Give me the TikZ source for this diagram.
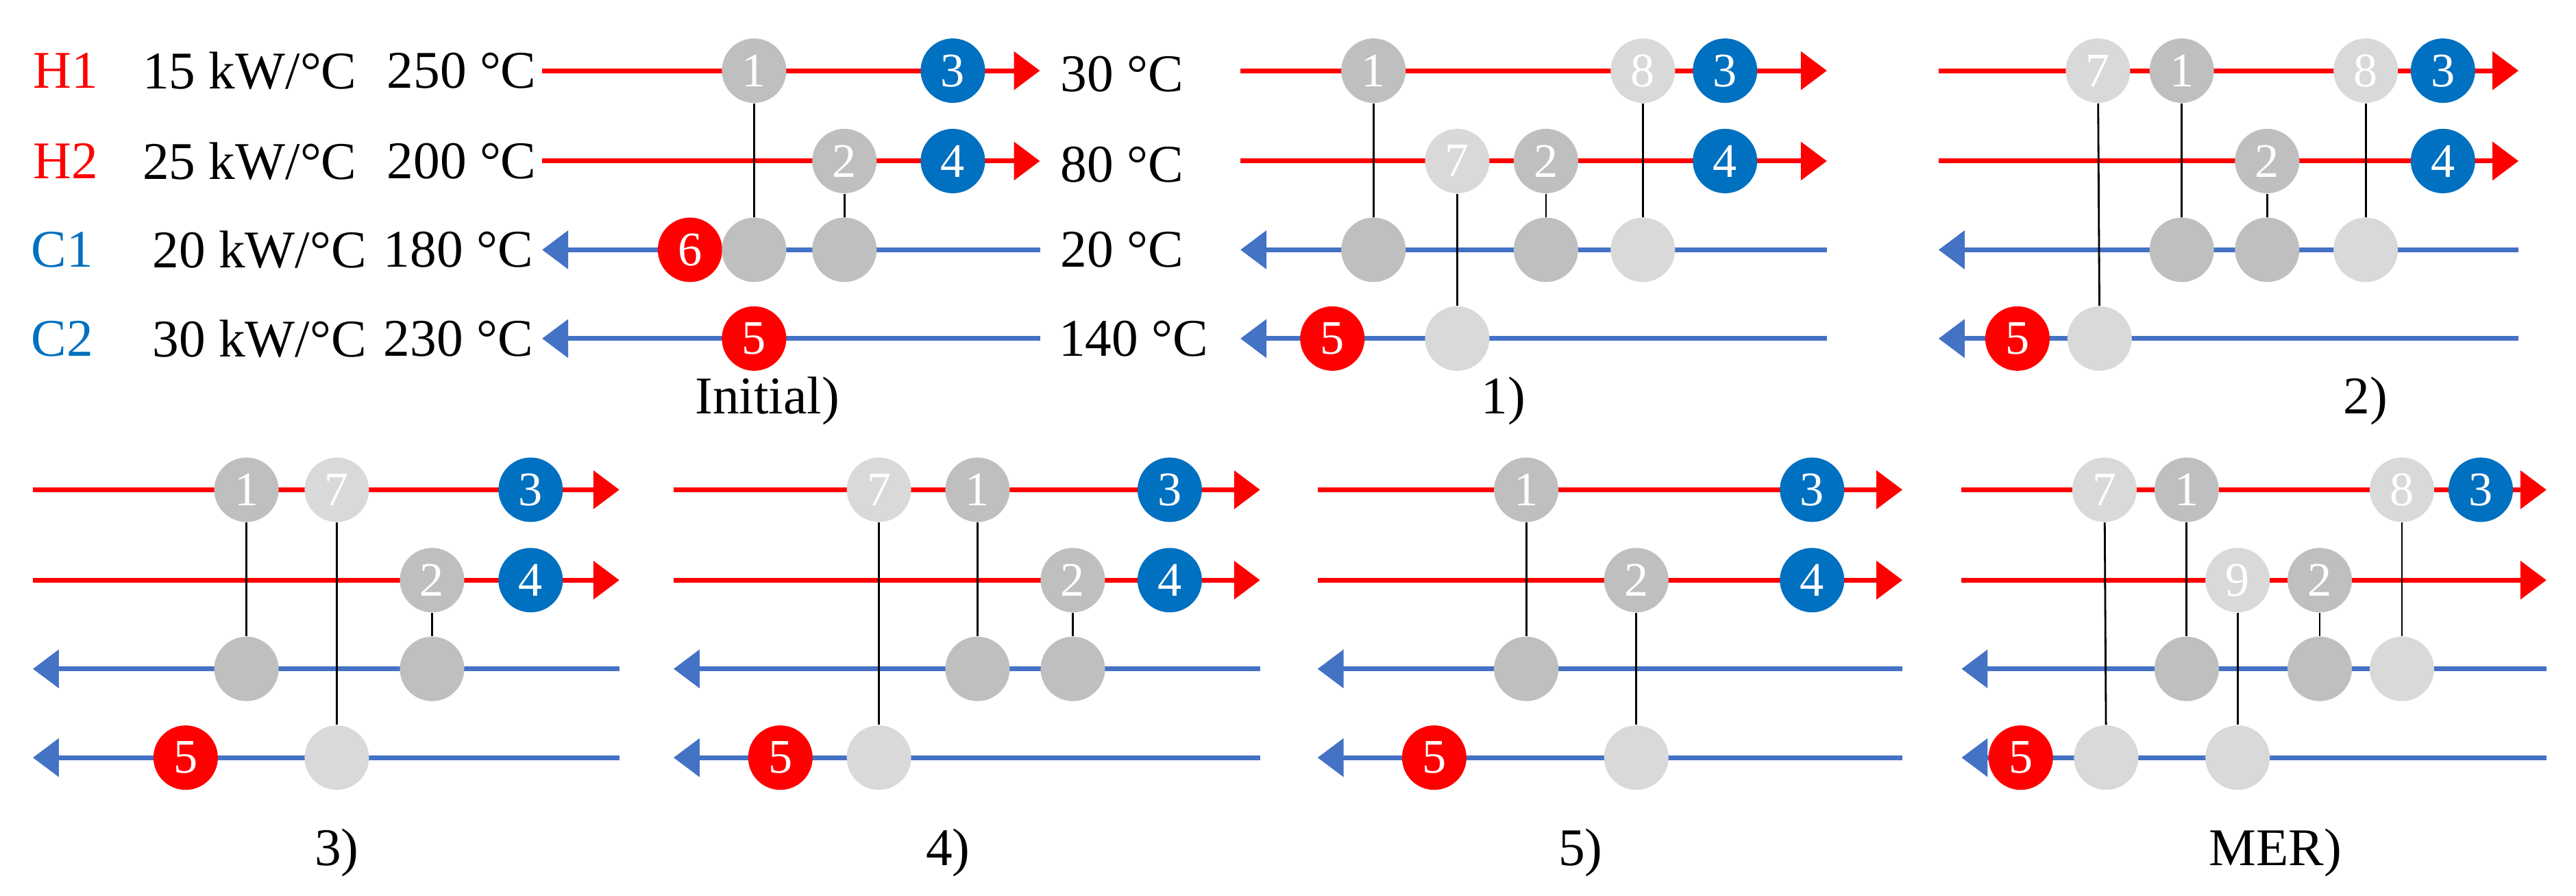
\documentclass[tikz,border=0pt]{standalone}
\usepackage{fontspec}
\setmainfont{Liberation Serif}
\usetikzlibrary{arrows.meta,backgrounds}
\definecolor{hotRed}{HTML}{FF0000}
\definecolor{coolBlue}{HTML}{0070C0}
\definecolor{coldLine}{HTML}{4472C4}
\definecolor{exDark}{HTML}{BFBFBF}
\definecolor{exLight}{HTML}{D9D9D9}
\tikzset{
  hx/.style={circle, minimum size=0.94cm, inner sep=0pt, text=white, font=\fontsize{20}{20}\selectfont},
  dk/.style={hx, fill=exDark},
  lt/.style={hx, fill=exLight},
  ht/.style={hx, fill=hotRed},
  cu/.style={hx, fill=coolBlue},
  hotline/.style={hotRed, line width=2pt, -{Triangle[length=0.38cm,width=0.55cm]}},
  coldline/.style={coldLine, line width=2pt, -{Triangle[length=0.38cm,width=0.55cm]}},
  link/.style={black, line width=0.8pt},
  lbl/.style={font=\fontsize{22}{22}\selectfont, inner sep=0pt},
  captxt/.style={font=\fontsize{22}{22}\selectfont, inner sep=0pt},
}
% streams of a panel: x0 left, x1 right, ya top row
\newcommand{\streams}[4]{%
  \coordinate (#4h1a) at (#1,#3); \coordinate (#4h1b) at (#2,#3);
  \coordinate (#4h2a) at (#1,#3+55); \coordinate (#4h2b) at (#2,#3+55);
  \coordinate (#4c1a) at (#2,#3+109); \coordinate (#4c1b) at (#1,#3+109);
  \coordinate (#4c2a) at (#2,#3+163); \coordinate (#4c2b) at (#1,#3+163);
  \begin{scope}[on background layer]
  \draw[hotline] (#4h1a) -- (#4h1b);
  \draw[hotline] (#4h2a) -- (#4h2b);
  \draw[coldline] (#4c1a) -- (#4c1b);
  \draw[coldline] (#4c2a) -- (#4c2b);
  \end{scope}}
\newcommand{\link}[2]{\begin{scope}[on background layer]\draw[link] (#1) -- (#2);\end{scope}}
\begin{document}
\begin{tikzpicture}[x=0.02397cm, y=-0.02397cm]
\useasboundingbox (0,0) rectangle (1568,545);

%% Initial
\node[lbl, text=hotRed] (tH1) at (40,43) {H1};
\node[lbl, text=hotRed] (tH2) at (40,98) {H2};
\node[lbl, text=coolBlue] (tC1) at (38,152) {C1};
\node[lbl, text=coolBlue] (tC2) at (38,206) {C2};
\node[lbl] (fH1) at (152,43) {15 kW/°C};
\node[lbl] (fH2) at (152,98) {25 kW/°C};
\node[lbl] (fC1) at (158,152) {20 kW/°C};
\node[lbl] (fC2) at (158,206) {30 kW/°C};
\node[lbl] (sH1) at (281,43) {250 °C};
\node[lbl] (sH2) at (281,98) {200 °C};
\node[lbl] (sC1) at (279,152) {180 °C};
\node[lbl] (sC2) at (279,206) {230 °C};
\node[lbl] (eH1) at (683,45) {30 °C};
\node[lbl] (eH2) at (683,100) {80 °C};
\node[lbl] (eC1) at (683,152) {20 °C};
\node[lbl] (eC2) at (690,206) {140 °C};
\streams{330}{633}{43}{p0}
\node[dk] (a1) at (459,43) {1};
\node[cu] (a3) at (580,43) {3};
\node[dk] (a2) at (514,98) {2};
\node[cu] (a4) at (580,98) {4};
\node[ht] (a6) at (420,152) {6};
\node[dk] (a1c) at (459,152) {};
\node[dk] (a2c) at (514,152) {};
\node[ht] (a5) at (459,206) {5};
\link{a1}{a1c} \link{a2}{a2c}
\node[captxt] (capA) at (467,244) {Initial)};

%% 1)
\streams{755}{1112}{43}{p1}
\node[dk] (b1) at (836,43) {1};
\node[lt] (b8) at (1000,43) {8};
\node[cu] (b3) at (1050,43) {3};
\node[lt] (b7) at (887,98) {7};
\node[dk] (b2) at (941,98) {2};
\node[cu] (b4) at (1050,98) {4};
\node[dk] (b1c) at (836,152) {};
\node[dk] (b2c) at (941,152) {};
\node[lt] (b8c) at (1000,152) {};
\node[ht] (b5) at (811,206) {5};
\node[lt] (b7c) at (887,206) {};
\link{b1}{b1c} \link{b2}{b2c} \link{b8}{b8c} \link{b7}{b7c}
\node[captxt] (capB) at (915,244) {1)};

%% 2)
\streams{1180}{1533}{43}{p2}
\node[lt] (c7) at (1277,43) {7};
\node[dk] (c1) at (1328,43) {1};
\node[lt] (c8) at (1440,43) {8};
\node[cu] (c3) at (1487,43) {3};
\node[dk] (c2) at (1380,98) {2};
\node[cu] (c4) at (1487,98) {4};
\node[dk] (c1c) at (1328,152) {};
\node[dk] (c2c) at (1380,152) {};
\node[lt] (c8c) at (1440,152) {};
\node[ht] (c5) at (1228,206) {5};
\node[lt] (c7c) at (1278,206) {};
\link{c1}{c1c} \link{c2}{c2c} \link{c8}{c8c} \link{c7}{c7c}
\node[captxt] (capC) at (1440,244) {2)};

%% 3)
\streams{20}{377}{298}{p3}
\node[dk] (d1) at (150,298) {1};
\node[lt] (d7) at (205,298) {7};
\node[cu] (d3) at (323,298) {3};
\node[dk] (d2) at (263,353) {2};
\node[cu] (d4) at (323,353) {4};
\node[dk] (d1c) at (150,407) {};
\node[dk] (d2c) at (263,407) {};
\node[ht] (d5) at (113,461) {5};
\node[lt] (d7c) at (205,461) {};
\link{d1}{d1c} \link{d2}{d2c} \link{d7}{d7c}
\node[captxt] (capD) at (205,519) {3)};

%% 4)
\streams{410}{767}{298}{p4}
\node[lt] (f7) at (535,298) {7};
\node[dk] (f1) at (595,298) {1};
\node[cu] (f3) at (712,298) {3};
\node[dk] (f2) at (653,353) {2};
\node[cu] (f4) at (712,353) {4};
\node[dk] (f1c) at (595,407) {};
\node[dk] (f2c) at (653,407) {};
\node[ht] (f5) at (475,461) {5};
\node[lt] (f7c) at (535,461) {};
\link{f1}{f1c} \link{f2}{f2c} \link{f7}{f7c}
\node[captxt] (capF) at (577,519) {4)};

%% 5)
\streams{802}{1158}{298}{p5}
\node[dk] (g1) at (929,298) {1};
\node[cu] (g3) at (1103,298) {3};
\node[dk] (g2) at (996,353) {2};
\node[cu] (g4) at (1103,353) {4};
\node[dk] (g1c) at (929,407) {};
\node[ht] (g5) at (873,461) {5};
\node[lt] (g2c) at (996,461) {};
\link{g1}{g1c} \link{g2}{g2c}
\node[captxt] (capG) at (962,519) {5)};

%% MER)
\streams{1194}{1550}{298}{p6}
\node[lt] (m7) at (1281,298) {7};
\node[dk] (m1) at (1331,298) {1};
\node[lt] (m8) at (1462,298) {8};
\node[cu] (m3) at (1510,298) {3};
\node[lt] (m9) at (1362,353) {9};
\node[dk] (m2) at (1412,353) {2};
\node[dk] (m1c) at (1331,407) {};
\node[dk] (m2c) at (1412,407) {};
\node[lt] (m8c) at (1462,407) {};
\node[ht] (m5) at (1230,461) {5};
\node[lt] (m7c) at (1282,461) {};
\node[lt] (m9c) at (1362,461) {};
\link{m1}{m1c} \link{m2}{m2c} \link{m8}{m8c} \link{m7}{m7c} \link{m9}{m9c}
\node[captxt] (capM) at (1385,519) {MER)};
\end{tikzpicture}
\end{document}
